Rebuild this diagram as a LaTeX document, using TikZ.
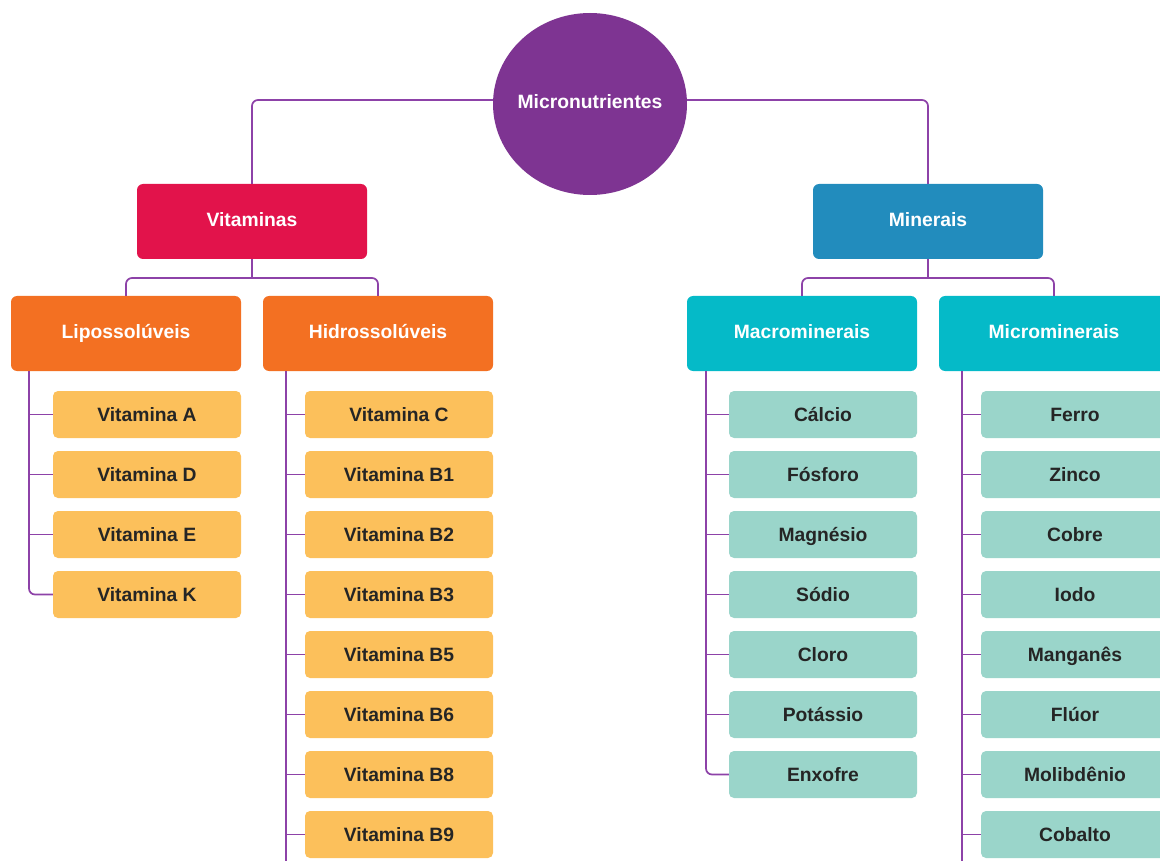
\documentclass[tikz,border=0pt]{standalone}
\usepackage{fontspec}
\setmainfont{Liberation Sans}
\usepackage{xcolor}
\usetikzlibrary{shapes.geometric}

\definecolor{roxo}{HTML}{7E3492}
\definecolor{linha}{HTML}{8D42A8}
\definecolor{vermelho}{HTML}{E2134B}
\definecolor{azul}{HTML}{228CBD}
\definecolor{laranja}{HTML}{F37022}
\definecolor{ciano}{HTML}{05BAC8}
\definecolor{amarelo}{HTML}{FCC05B}
\definecolor{menta}{HTML}{9AD5CA}
\definecolor{texto}{HTML}{252525}

\begin{document}
\begin{tikzpicture}[x=1pt,y=-1pt,
    link/.style={draw=linha, line width=1.7pt, rounded corners=6pt},
    caixa/.style={rectangle, rounded corners=6pt, minimum width=230pt, minimum height=75pt,
        text=white, text height=14pt, text depth=4pt, font=\fontsize{19.3}{22}\selectfont\bfseries},
    folha/.style={rectangle, rounded corners=5pt, minimum width=188pt, minimum height=47pt,
        text=texto, text height=14pt, text depth=0pt, font=\fontsize{19.3}{22}\selectfont\bfseries}]
    \useasboundingbox (0,0) rectangle (1160,861);
    \clip (0,0) rectangle (1160,861);

    % Centro
    \node[ellipse, fill=roxo, minimum width=194pt, minimum height=182pt, inner sep=0pt,
        label={[text=white, text height=14pt, text depth=5pt,
            font=\fontsize{19.3}{22}\selectfont\bfseries]center:Micronutrientes}] (mn) at (590,104) {};

    % Grupos
    \node[caixa, fill=vermelho] (vit) at (252,221.5) {Vitaminas};
    \node[caixa, fill=azul] (min) at (928,221.5) {Minerais};
    \draw[link] ([yshift=4pt]mn.west) -| (vit.north);
    \draw[link] ([yshift=4pt]mn.east) -| (min.north);

    % Subgrupos
    \node[caixa, fill=laranja] (lipo) at (126,333.5) {Lipossolúveis};
    \node[caixa, fill=laranja] (hidro) at (378,333.5) {Hidrossolúveis};
    \node[caixa, fill=ciano] (macro) at (802,333.5) {Macrominerais};
    \node[caixa, fill=ciano] (micro) at (1054,333.5) {Microminerais};

    \coordinate (vitbus) at (252,278);
    \coordinate (minbus) at (928,278);
    \draw[link] (vit.south) -- (vitbus);
    \draw[link] (vitbus) -| (lipo.north);
    \draw[link] (vitbus) -| (hidro.north);
    \draw[link] (min.south) -- (minbus);
    \draw[link] (minbus) -| (macro.north);
    \draw[link] (minbus) -| (micro.north);

    % Barras verticais
    \coordinate (lipobus) at (29,371);
    \coordinate (hidrobus) at (286,371);
    \coordinate (macrobus) at (706,371);
    \coordinate (microbus) at (962,371);
    \coordinate (hidrofim) at (286,880);
    \coordinate (microfim) at (962,880);

    % Lipossoluveis
    \foreach \nome [count=\i] in {Vitamina A,Vitamina D,Vitamina E,Vitamina K} {
        \node[folha, fill=amarelo] (lipo\i) at (147,354.5+60*\i) {\nome};
        \ifnum\i<4 \draw[link] (lipo\i.west) -- (lipo\i.west -| lipobus); \fi
    }
    \draw[link] (lipobus) |- (lipo4.west);

    % Hidrossoluveis
    \foreach \nome [count=\i] in {Vitamina C,Vitamina B1,Vitamina B2,Vitamina B3,
        Vitamina B5,Vitamina B6,Vitamina B8,Vitamina B9} {
        \node[folha, fill=amarelo] (hidro\i) at (399,354.5+60*\i) {\nome};
        \draw[link] (hidro\i.west) -- (hidro\i.west -| hidrobus);
    }
    \draw[link] (hidrobus) -- (hidrofim);

    % Macrominerais
    \foreach \nome [count=\i] in {Cálcio,Fósforo,Magnésio,Sódio,Cloro,Potássio,Enxofre} {
        \node[folha, fill=menta] (macro\i) at (823,354.5+60*\i) {\nome};
        \ifnum\i<7 \draw[link] (macro\i.west) -- (macro\i.west -| macrobus); \fi
    }
    \draw[link] (macrobus) |- (macro7.west);

    % Microminerais
    \foreach \nome [count=\i] in {Ferro,Zinco,Cobre,Iodo,Manganês,Flúor,Molibdênio,Cobalto} {
        \node[folha, fill=menta] (micro\i) at (1075,354.5+60*\i) {\nome};
        \draw[link] (micro\i.west) -- (micro\i.west -| microbus);
    }
    \draw[link] (microbus) -- (microfim);
\end{tikzpicture}
\end{document}
